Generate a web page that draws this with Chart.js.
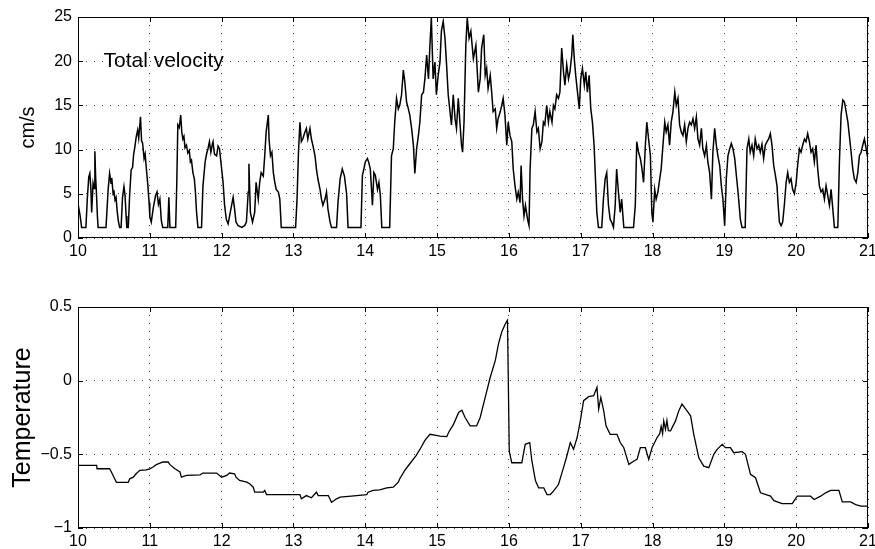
<!DOCTYPE html>
<html>
<head>
<meta charset="utf-8">
<script src="https://cdn.jsdelivr.net/npm/chart.js@4/dist/chart.umd.min.js"></script>
<style>
  html, body { margin: 0; padding: 0; background: #fff; }
  #wrap { position: relative; width: 875px; height: 549px; }
  canvas { position: absolute; left: 0; }
  #velocityChart { top: 0; }
  #tempChart { top: 290px; }
</style>
</head>
<body>
<div id="wrap">
  <canvas id="velocityChart" width="875" height="270"></canvas>
  <canvas id="tempChart" width="875" height="259"></canvas>
</div>
<script>
// days (x) shared tick labels
const dayTicks = [10, 11, 12, 13, 14, 15, 16, 17, 18, 19, 20, 21];
const velocityTicks = [0, 5, 10, 15, 20, 25];
const tempTicks = [-1, -0.5, 0, 0.5];

// Total velocity, cm/s
const velDays = [
    10.00, 10.03, 10.05, 10.11, 10.13, 10.15, 10.165, 10.18, 10.19, 10.21,
    10.225, 10.235, 10.245, 10.255, 10.27, 10.28, 10.39, 10.42, 10.44, 10.46,
    10.47, 10.49, 10.50, 10.515, 10.53, 10.545, 10.56, 10.58, 10.60, 10.62,
    10.64, 10.655, 10.67, 10.68, 10.70, 10.72, 10.74, 10.76, 10.775, 10.79,
    10.81, 10.83, 10.845, 10.87, 10.885, 10.90, 10.92, 10.935, 10.95, 10.97,
    10.99, 11.00, 11.02, 11.05, 11.08, 11.10, 11.12, 11.14, 11.16, 11.18,
    11.25, 11.265, 11.28, 11.36, 11.375, 11.39, 11.41, 11.43, 11.445, 11.46,
    11.475, 11.49, 11.51, 11.53, 11.55, 11.565, 11.58, 11.60, 11.62, 11.635,
    11.65, 11.67, 11.72, 11.74, 11.77, 11.79, 11.81, 11.83, 11.85, 11.87,
    11.88, 11.90, 11.93, 11.95, 11.97, 11.995, 12.02, 12.04, 12.065, 12.09,
    12.12, 12.16, 12.18, 12.20, 12.23, 12.28, 12.32, 12.345, 12.37, 12.38,
    12.40, 12.43, 12.46, 12.48, 12.51, 12.53, 12.55, 12.58, 12.60, 12.62,
    12.65, 12.66, 12.68, 12.70, 12.72, 12.74, 12.76, 12.79, 12.81, 12.83,
    13.03, 13.05, 13.07, 13.09, 13.11, 13.13, 13.16, 13.18, 13.20, 13.23,
    13.25, 13.27, 13.30, 13.32, 13.34, 13.37, 13.39, 13.41, 13.44, 13.46,
    13.48, 13.51, 13.53, 13.60, 13.62, 13.65, 13.68, 13.71, 13.74, 13.76,
    13.94, 13.96, 13.98, 14.00, 14.03, 14.05, 14.07, 14.10, 14.12, 14.14,
    14.17, 14.19, 14.21, 14.23, 14.34, 14.365, 14.39, 14.41, 14.435, 14.46,
    14.48, 14.505, 14.53, 14.55, 14.575, 14.60, 14.62, 14.645, 14.67, 14.69,
    14.715, 14.74, 14.76, 14.785, 14.81, 14.83, 14.855, 14.88, 14.90, 14.92,
    14.945, 14.97, 14.99, 15.015, 15.04, 15.06, 15.085, 15.11, 15.13, 15.155,
    15.18, 15.20, 15.225, 15.25, 15.27, 15.295, 15.32, 15.34, 15.355, 15.375,
    15.40, 15.42, 15.445, 15.47, 15.505, 15.54, 15.575, 15.60, 15.62, 15.65,
    15.67, 15.69, 15.71, 15.74, 15.76, 15.78, 15.81, 15.83, 15.85, 15.88,
    15.90, 15.92, 15.945, 15.97, 15.99, 16.015, 16.04, 16.06, 16.085, 16.11,
    16.13, 16.155, 16.17, 16.19, 16.21, 16.23, 16.26, 16.28, 16.295, 16.32,
    16.34, 16.365, 16.39, 16.41, 16.435, 16.46, 16.48, 16.50, 16.526, 16.55,
    16.57, 16.60, 16.62, 16.64, 16.665, 16.69, 16.71, 16.735, 16.76, 16.78,
    16.805, 16.83, 16.85, 16.875, 16.89, 16.91, 16.93, 16.955, 16.98, 17.00,
    17.024, 17.05, 17.07, 17.093, 17.117, 17.14, 17.163, 17.186, 17.205, 17.224,
    17.247, 17.293, 17.316, 17.34, 17.362, 17.386, 17.41, 17.43, 17.456, 17.48,
    17.50, 17.525, 17.55, 17.57, 17.60, 17.735, 17.76, 17.78, 17.805, 17.83,
    17.85, 17.875, 17.90, 17.92, 17.945, 17.97, 17.99, 18.005, 18.03, 18.05,
    18.075, 18.10, 18.12, 18.145, 18.17, 18.19, 18.214, 18.237, 18.26, 18.284,
    18.31, 18.33, 18.354, 18.377, 18.40, 18.423, 18.447, 18.47, 18.493, 18.516,
    18.54, 18.563, 18.586, 18.61, 18.632, 18.656, 18.68, 18.70, 18.725, 18.75,
    18.77, 18.795, 18.82, 18.84, 18.865, 18.888, 18.91, 18.935, 18.958, 18.98,
    19.004, 19.027, 19.05, 19.074, 19.097, 19.12, 19.144, 19.167, 19.19, 19.223,
    19.246, 19.29, 19.315, 19.34, 19.36, 19.385, 19.408, 19.43, 19.455, 19.478,
    19.50, 19.524, 19.547, 19.57, 19.594, 19.617, 19.64, 19.663, 19.687, 19.71,
    19.733, 19.747, 19.766, 19.79, 19.812, 19.835, 19.86, 19.882, 19.905, 19.928,
    19.95, 19.975, 20.00, 20.02, 20.045, 20.068, 20.09, 20.115, 20.137, 20.16,
    20.184, 20.207, 20.23, 20.253, 20.277, 20.30, 20.323, 20.346, 20.37, 20.393,
    20.416, 20.44, 20.463, 20.486, 20.51, 20.532, 20.58, 20.602, 20.625, 20.65,
    20.672, 20.695, 20.72, 20.74, 20.765, 20.788, 20.81, 20.835, 20.858, 20.88,
    20.904, 20.927, 20.95, 20.974, 21.00
];
const velocity = [
    3.9, 2.5, 1.2, 1.2, 4.5, 6.9, 7.3, 5.5, 2.9, 6.2,
    5.6, 9.8, 7.0, 5.4, 2.5, 1.2, 1.2, 5.5, 7.3, 6.2,
    6.8, 4.9, 5.4, 4.3, 4.6, 3.1, 2.0, 1.2, 1.2, 4.6,
    5.8, 4.8, 2.5, 1.2, 1.2, 5.0, 7.7, 8.0, 9.5, 10.2,
    11.4, 12.2, 11.3, 13.7, 11.0, 10.7, 9.0, 9.5, 8.0, 6.2,
    4.0, 2.4, 1.8, 3.5, 4.8, 5.2, 3.8, 4.4, 2.0, 1.2,
    1.2, 4.6, 1.2, 1.2, 6.0, 12.8, 12.5, 13.9, 12.0, 11.2,
    11.5, 10.2, 10.5, 9.6, 9.9, 8.6, 8.8, 7.4, 6.7, 5.2,
    3.0, 1.2, 1.2, 5.9, 8.6, 9.5, 10.1, 10.9, 9.7, 10.6,
    10.9, 9.5, 9.3, 10.4, 10.1, 8.2, 6.3, 3.8, 2.1, 1.6,
    2.9, 4.6, 3.3, 1.8, 1.4, 1.2, 1.4, 1.8, 5.2, 8.4,
    2.9, 1.8, 2.9, 6.3, 4.4, 6.3, 7.4, 7.0, 9.3, 12.0,
    13.9, 11.2, 9.3, 9.7, 7.4, 6.3, 5.5, 5.2, 4.4, 1.2,
    1.2, 4.4, 9.7, 13.1, 10.9, 11.2, 12.0, 12.4, 11.2, 12.4,
    11.2, 10.5, 9.3, 7.8, 6.7, 5.5, 4.4, 3.7, 4.4, 5.2,
    3.3, 1.8, 1.2, 1.2, 4.0, 6.7, 7.8, 7.0, 5.0, 1.2,
    1.2, 7.1, 7.8, 8.6, 9.0, 8.5, 7.8, 3.7, 7.4, 7.1,
    5.5, 6.3, 4.8, 1.2, 1.2, 9.3, 10.1, 13.1, 15.8, 14.6,
    15.0, 16.2, 19.0, 17.7, 15.4, 14.6, 13.9, 12.4, 10.5, 7.3,
    10.1, 11.6, 13.1, 16.2, 16.5, 18.0, 20.7, 18.0, 21.8, 24.9,
    18.0, 19.9, 16.2, 18.4, 19.9, 23.4, 24.5, 22.6, 19.9, 16.2,
    14.3, 12.8, 16.2, 13.5, 12.4, 15.8, 12.8, 10.5, 9.7, 13.1,
    21.8, 24.9, 22.6, 23.4, 20.3, 21.8, 16.5, 18.0, 21.5, 23.0,
    18.4, 19.2, 16.9, 18.4, 16.5, 14.3, 14.6, 12.4, 13.5, 14.3,
    15.0, 15.8, 13.9, 10.5, 13.1, 11.6, 10.9, 7.8, 5.9, 4.4,
    5.2, 4.0, 8.2, 4.4, 2.5, 3.7, 2.1, 1.4, 7.8, 12.4,
    12.8, 14.3, 12.0, 12.4, 10.1, 10.9, 13.1, 12.8, 15.0, 13.1,
    14.3, 13.1, 15.0, 14.6, 16.2, 15.8, 16.5, 21.5, 18.8, 17.3,
    19.6, 18.0, 18.8, 20.7, 23.0, 20.3, 18.4, 16.5, 14.6, 18.0,
    19.2, 17.3, 18.8, 16.5, 18.4, 14.6, 13.1, 10.5, 6.7, 2.9,
    1.2, 1.2, 4.4, 6.7, 7.4, 3.7, 2.1, 1.8, 1.2, 3.7,
    7.8, 5.2, 2.9, 4.4, 1.2, 1.2, 3.7, 10.9, 9.7, 9.0,
    8.0, 6.3, 10.5, 13.1, 11.2, 9.3, 2.9, 1.8, 5.5, 4.4,
    5.2, 6.7, 7.8, 10.5, 13.1, 12.0, 12.8, 10.5, 13.1, 14.3,
    16.5, 15.0, 15.8, 12.8, 12.0, 11.6, 12.8, 10.9, 12.4, 13.1,
    12.8, 13.5, 12.4, 13.7, 11.2, 10.5, 12.4, 10.1, 9.3, 10.5,
    8.6, 7.4, 4.4, 9.7, 12.4, 10.5, 9.3, 8.2, 5.9, 4.4,
    1.4, 6.7, 9.3, 10.1, 10.7, 10.1, 9.0, 7.1, 5.2, 2.1,
    1.2, 1.2, 10.1, 11.2, 9.7, 10.5, 9.3, 11.2, 10.1, 10.5,
    9.7, 10.6, 9.0, 10.5, 10.9, 11.2, 11.8, 10.5, 8.2, 7.1,
    5.9, 4.0, 1.8, 1.4, 1.8, 3.7, 6.3, 7.4, 6.3, 6.7,
    5.5, 5.0, 6.3, 8.2, 10.1, 9.7, 10.5, 11.2, 10.9, 11.8,
    10.9, 9.7, 10.1, 8.6, 10.5, 7.8, 5.9, 5.2, 5.5, 4.4,
    5.9, 4.8, 3.7, 5.5, 3.3, 1.2, 1.2, 8.6, 13.9, 15.6,
    15.4, 14.3, 13.1, 11.6, 9.7, 7.8, 6.7, 6.3, 7.4, 9.3,
    9.7, 10.5, 11.2, 10.1, 8.9
];

// Temperature
const tempDays = [
    10.00, 10.26, 10.265, 10.44, 10.465, 10.51, 10.535, 10.70, 10.72, 10.77,
    10.81, 10.86, 10.95, 11.00, 11.045, 11.09, 11.185, 11.255, 11.28, 11.35,
    11.42, 11.44, 11.51, 11.70, 11.74, 11.93, 12.00, 12.07, 12.11, 12.18,
    12.20, 12.25, 12.35, 12.39, 12.44, 12.46, 12.58, 12.60, 12.625, 13.09,
    13.11, 13.18, 13.25, 13.32, 13.345, 13.485, 13.53, 13.60, 13.65, 13.88,
    14.02, 14.04, 14.11, 14.20, 14.30, 14.39, 14.46, 14.48, 14.55, 14.62,
    14.71, 14.78, 14.83, 14.90, 14.97, 15.04, 15.135, 15.16, 15.23, 15.30,
    15.345, 15.39, 15.46, 15.55, 15.60, 15.67, 15.74, 15.81, 15.855, 15.90,
    15.95, 15.98, 16.005, 16.04, 16.18, 16.227, 16.29, 16.32, 16.37, 16.414,
    16.485, 16.53, 16.576, 16.62, 16.69, 16.76, 16.80, 16.855, 16.90, 16.95,
    16.994, 17.04, 17.11, 17.18, 17.226, 17.25, 17.28, 17.32, 17.352, 17.41,
    17.505, 17.55, 17.60, 17.67, 17.74, 17.784, 17.83, 17.90, 17.947, 17.993,
    18.063, 18.10, 18.12, 18.14, 18.156, 18.18, 18.20, 18.22, 18.25, 18.32,
    18.365, 18.41, 18.48, 18.53, 18.574, 18.644, 18.713, 18.783, 18.853, 18.90,
    18.97, 19.015, 19.085, 19.13, 19.248, 19.294, 19.364, 19.434, 19.503, 19.643,
    19.69, 19.805, 19.945, 20.015, 20.20, 20.25, 20.34, 20.41, 20.48, 20.595,
    20.642, 20.758, 20.828, 20.90, 21.00
];
const temperature = [
    -0.575, -0.575, -0.598, -0.598, -0.62, -0.666, -0.69, -0.69, -0.666, -0.655,
    -0.632, -0.609, -0.605, -0.598, -0.586, -0.57, -0.552, -0.552, -0.57, -0.598,
    -0.62, -0.655, -0.643, -0.639, -0.627, -0.627, -0.655, -0.643, -0.627, -0.632,
    -0.655, -0.677, -0.689, -0.70, -0.723, -0.757, -0.757, -0.745, -0.773, -0.773,
    -0.802, -0.78, -0.795, -0.757, -0.78, -0.78, -0.825, -0.802, -0.791, -0.78,
    -0.773, -0.757, -0.745, -0.741, -0.727, -0.723, -0.689, -0.666, -0.609, -0.564,
    -0.507, -0.45, -0.405, -0.364, -0.37, -0.377, -0.38, -0.352, -0.295, -0.216,
    -0.20, -0.25, -0.307, -0.307, -0.25, -0.114, 0.023, 0.136, 0.25, 0.33,
    0.386, 0.41, -0.48, -0.557, -0.557, -0.432, -0.42, -0.545, -0.68, -0.727,
    -0.727, -0.773, -0.773, -0.75, -0.705, -0.59, -0.523, -0.42, -0.466, -0.386,
    -0.273, -0.136, -0.109, -0.102, -0.045, -0.193, -0.114, -0.205, -0.307, -0.364,
    -0.364, -0.42, -0.455, -0.568, -0.545, -0.534, -0.455, -0.455, -0.534, -0.455,
    -0.386, -0.36, -0.31, -0.36, -0.273, -0.33, -0.27, -0.34, -0.341, -0.273,
    -0.205, -0.159, -0.205, -0.239, -0.364, -0.523, -0.58, -0.591, -0.50, -0.466,
    -0.432, -0.455, -0.455, -0.489, -0.482, -0.50, -0.636, -0.659, -0.761, -0.784,
    -0.814, -0.834, -0.834, -0.784, -0.784, -0.807, -0.784, -0.761, -0.745, -0.745,
    -0.823, -0.823, -0.841, -0.852, -0.852
];

const FONT = "'Liberation Sans', Arial, Helvetica, sans-serif";

// matlab-style box: solid frame with inward tick marks on all four sides
const boxFrame = {
    id: 'boxFrame',
    afterDraw(chart) {
        const { ctx, chartArea: a, scales: { x, y } } = chart;
        const len = 5;
        ctx.save();
        ctx.strokeStyle = '#000';
        ctx.lineWidth = 1;
        ctx.beginPath();
        x.ticks.forEach(t => {
            const px = Math.round(x.getPixelForValue(t.value)) + 0.5;
            ctx.moveTo(px, a.bottom); ctx.lineTo(px, a.bottom - len);
            ctx.moveTo(px, a.top); ctx.lineTo(px, a.top + len);
        });
        y.ticks.forEach(t => {
            const py = Math.round(y.getPixelForValue(t.value)) + 0.5;
            ctx.moveTo(a.left, py); ctx.lineTo(a.left + len, py);
            ctx.moveTo(a.right, py); ctx.lineTo(a.right - len, py);
        });
        ctx.stroke();
        ctx.strokeRect(a.left + 0.5, a.top + 0.5, a.width - 1, a.height - 1);
        ctx.restore();
    }
};

// text label placed in data coordinates
const plotLabel = {
    id: 'plotLabel',
    afterDraw(chart, args, opts) {
        if (!opts.text) return;
        const { ctx, scales: { x, y } } = chart;
        ctx.save();
        ctx.font = opts.size + 'px ' + FONT;
        ctx.fillStyle = '#000';
        ctx.textBaseline = 'middle';
        ctx.fillText(opts.text, x.getPixelForValue(opts.x), y.getPixelForValue(opts.y));
        ctx.restore();
    }
};

function fixedTicks(list) {
    return scale => { scale.ticks = list.map(v => ({ value: v })); };
}

function fmtTick(v) {
    return v < 0 ? '\u2212' + String(-v) : String(v);
}

function makeChart(id, days, values, yTicks, yTitle, opts) {
    const ctx = document.getElementById(id).getContext('2d');
    return new Chart(ctx, {
        type: 'line',
        data: {
            datasets: [{
                data: days.map((d, i) => ({ x: d, y: values[i] })),
                borderColor: '#000',
                borderWidth: opts.lineWidth,
                pointRadius: 0,
                tension: 0,
                fill: false
            }]
        },
        plugins: [boxFrame, plotLabel],
        options: {
            responsive: false,
            animation: false,
            events: [],
            layout: { padding: { top: 17, right: 7, left: 0, bottom: 0 } },
            plugins: {
                legend: { display: false },
                tooltip: { enabled: false },
                plotLabel: opts.label || {}
            },
            scales: {
                x: {
                    type: 'linear',
                    min: 10,
                    max: 21,
                    afterBuildTicks: fixedTicks(dayTicks),
                    afterFit: s => {
                        s.height = opts.xHeight;
                        // let the end labels hang over the padding
                        s.paddingLeft = 0;
                        s.paddingRight = 0;
                    },
                    grid: { color: '#444', lineWidth: 1, drawTicks: false },
                    border: { display: false, dash: [1, 7] },
                    ticks: {
                        color: '#000',
                        padding: 4,
                        maxRotation: 0,
                        autoSkip: false,
                        font: { family: FONT, size: 16 },
                        callback: v => fmtTick(v)
                    }
                },
                y: {
                    min: yTicks[0],
                    max: yTicks[yTicks.length - 1],
                    afterBuildTicks: fixedTicks(yTicks),
                    afterFit: s => {
                        s.width = 78;
                        s.paddingTop = 0;
                        s.paddingBottom = 0;
                    },
                    grid: { color: '#444', lineWidth: 1, drawTicks: false },
                    border: { display: false, dash: [1, 7] },
                    ticks: {
                        color: '#000',
                        padding: 6,
                        autoSkip: false,
                        font: { family: FONT, size: 16 },
                        callback: v => fmtTick(v)
                    },
                    title: {
                        display: true,
                        text: yTitle,
                        color: '#000',
                        font: { family: FONT, size: opts.titleSize },
                        padding: { top: opts.titlePad, bottom: 0 }
                    }
                }
            }
        }
    });
}

document.addEventListener('DOMContentLoaded', () => {
    makeChart('velocityChart', velDays, velocity, velocityTicks, 'cm/s', {
        lineWidth: 1.5,
        xHeight: 32,
        titleSize: 20,
        titlePad: 16,
        label: { text: 'Total velocity', x: 10.355, y: 20, size: 21 }
    });
    makeChart('tempChart', tempDays, temperature, tempTicks, 'Temperature', {
        lineWidth: 1.3,
        xHeight: 21,
        titleSize: 25,
        titlePad: 8
    });
});
</script>
</body>
</html>
